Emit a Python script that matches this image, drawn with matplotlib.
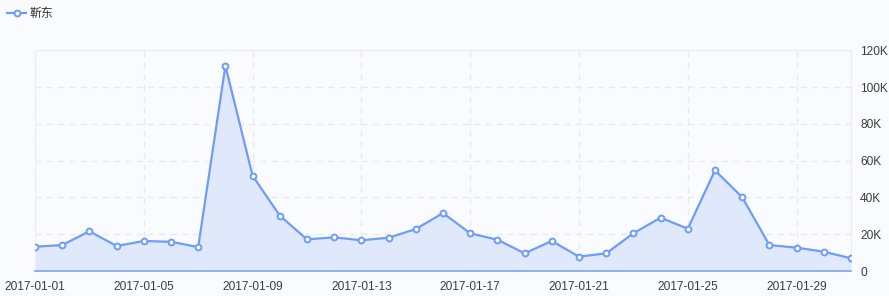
import matplotlib
matplotlib.use("Agg")
import matplotlib.pyplot as plt
import matplotlib.dates as mdates
import numpy as np
import pandas as pd

dates = pd.date_range("2017-01-01", "2017-01-31", freq="D")
values = [13.2, 14.1, 21.6, 13.6, 16.3, 15.9, 13.0, 111.6, 51.8, 30.1,
          17.2, 18.3, 16.7, 18.1, 22.8, 31.5, 20.5, 17.0, 9.6, 16.3,
          7.8, 9.6, 20.5, 29.0, 23.0, 54.7, 40.1, 14.1, 12.7, 10.5, 6.9]
values = [v * 1000 for v in values]
series_name = "靳东"
ytick_vals = [0, 20000, 40000, 60000, 80000, 100000, 120000]
ytick_labels = ["0", "20K", "40K", "60K", "80K", "100K", "120K"]
xtick_dates = pd.date_range("2017-01-01", "2017-01-29", freq="4D")

bg = "#fafbfe"
line_c = "#6e9cf6"
fill_c = "#dfe9fb"
grid_c = "#e4e9f5"
text_c = "#3c3c3c"

plt.rcParams['font.family'] = ['Liberation Sans', 'Noto Sans CJK SC', 'DejaVu Sans']

W, H = 889, 296
fig = plt.figure(figsize=(W / 100, H / 100), dpi=100, facecolor=bg)
ax = fig.add_axes([35 / W, (H - 271) / H, (851 - 35) / W, (271 - 50.3) / H], facecolor=bg)

x = mdates.date2num(dates)
ax.fill_between(x, 0, values, color=fill_c, zorder=1, linewidth=0)
ax.plot(x, values, color=line_c, linewidth=1.6, marker='o', markersize=4.2,
        markerfacecolor='white', markeredgecolor=line_c, markeredgewidth=1.4, zorder=3,
        label=series_name)

ax.set_xlim(x[0], x[-1])
ax.set_ylim(0, 120000)
ax.set_yticks(ytick_vals)
ax.set_yticklabels(ytick_labels)
ax.set_xticks(mdates.date2num(xtick_dates))
ax.set_xticklabels([d.strftime("%Y-%m-%d") for d in xtick_dates])

ax.yaxis.tick_right()
ax.tick_params(axis='both', length=0, labelsize=8.6, colors=text_c)
ax.tick_params(axis='y', pad=6.5)
ax.tick_params(axis='x', pad=7.5)

ax.grid(True, color=grid_c, linestyle=(0, (5, 4)), linewidth=0.9, zorder=0)
for s in ['top', 'right', 'left']:
    ax.spines[s].set_color("#eaeef8")
    ax.spines[s].set_linewidth(0.9)
ax.spines['bottom'].set_color("#7fa4f0")
ax.spines['bottom'].set_linewidth(1.2)

leg = fig.legend(loc='upper left', bbox_to_anchor=(0.0, 1.0), frameon=False,
                 handlelength=1.6, handletextpad=0.3, borderaxespad=0.2,
                 prop={'family': ['Noto Sans CJK SC', 'DejaVu Sans'], 'size': 8.6})
for t in leg.get_texts():
    t.set_color("#333333")

fig.savefig("out.png", dpi=100, facecolor=bg)
